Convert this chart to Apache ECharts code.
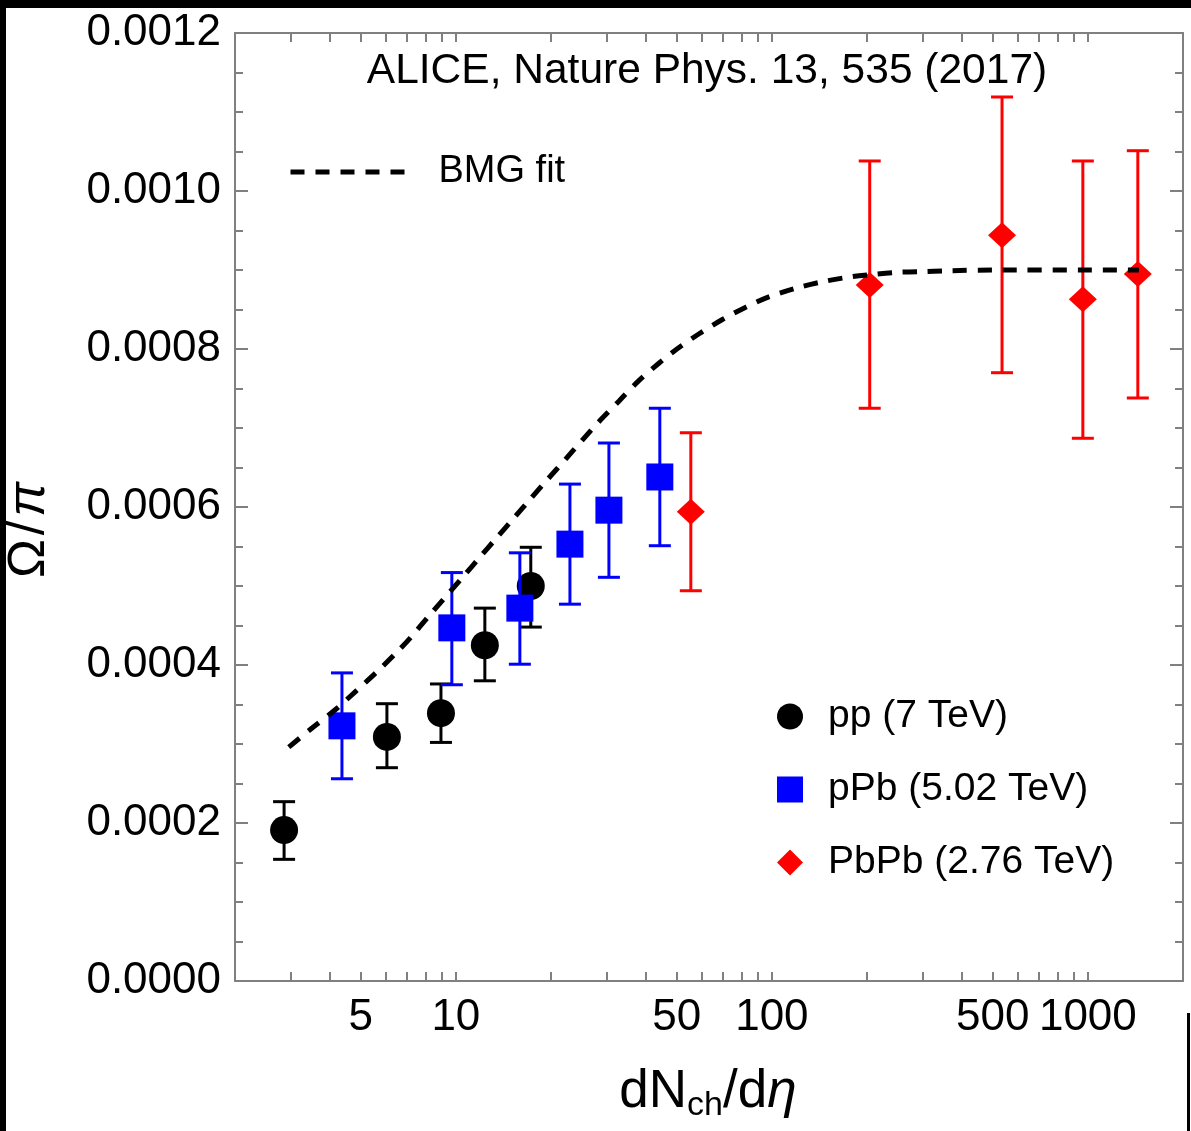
<!DOCTYPE html>
<html>
<head>
<meta charset="utf-8">
<script src="https://cdn.jsdelivr.net/npm/echarts@6/dist/echarts.min.js"></script>
<style>
  html, body { margin: 0; padding: 0; background: #fff; }
  #chart { width: 1191px; height: 1131px; }
</style>
</head>
<body>
<div id="chart"></div>
<script>
// pp (7 TeV)
var ppX  = [2.86, 6.05, 8.97, 12.35, 17.26];
var ppY  = [0.000191, 0.000309, 0.000339, 0.000425, 0.000500];
var ppLo = [0.000154, 0.000270, 0.000302, 0.000380, 0.000448];
var ppHi = [0.000227, 0.000351, 0.000376, 0.000472, 0.000549];

// pPb (5.02 TeV)
var pPbX  = [4.36, 9.71, 15.94, 22.96, 30.5, 44.2];
var pPbY  = [0.000323, 0.000447, 0.000472, 0.000553, 0.000596, 0.000638];
var pPbLo = [0.000256, 0.000375, 0.000401, 0.000477, 0.000511, 0.000551];
var pPbHi = [0.000390, 0.000517, 0.000542, 0.000629, 0.000681, 0.000725];

// PbPb (2.76 TeV)
var PbPbX  = [55.4, 204, 535, 964, 1439];
var PbPbY  = [0.000594, 0.000881, 0.000944, 0.000863, 0.000895];
var PbPbLo = [0.000494, 0.000725, 0.000770, 0.000687, 0.000738];
var PbPbHi = [0.000694, 0.001038, 0.001119, 0.001038, 0.001051];

// BMG fit
var fitX = [2.96, 3.50, 4.17, 4.83, 5.58, 6.46, 7.20, 8.21, 9.17, 10.45, 12.0, 13.39, 15.26, 17.02,
            19.41, 22.29, 25.05, 28.35, 32.8, 37.94, 43.9, 49.7, 58.7, 69.5, 82.7, 97.8, 119, 144,
            175, 203, 247, 298, 355, 523, 1450];
var fitY = [0.000296, 0.000320, 0.000344, 0.000367, 0.000390, 0.000415, 0.000435, 0.000462, 0.000484,
            0.000510, 0.000538, 0.000560, 0.000586, 0.000608, 0.000634, 0.000661, 0.000684, 0.000708,
            0.000734, 0.000760, 0.000782, 0.000799, 0.000819, 0.000837, 0.000853, 0.000866, 0.000877,
            0.000885, 0.000891, 0.000894, 0.000897, 0.000898, 0.000899, 0.000900, 0.000900];

// axis ticks
var xTickVals = [3, 4, 5, 6, 7, 8, 9, 10, 20, 30, 40, 50, 60, 70, 80, 90, 100,
                 200, 300, 400, 500, 600, 700, 800, 900, 1000];
var xLabelVals = [5, 10, 50, 100, 500, 1000];

var FONT = '"Liberation Sans", Arial, Helvetica, sans-serif';
var frameColor = '#808080';

function pairs(xs, ys) {
  return xs.map(function (x, i) { return [x, ys[i]]; });
}

function errBars(name, xs, lo, hi, color, z) {
  return {
    type: 'custom',
    name: name,
    xAxisIndex: 0,
    yAxisIndex: 0,
    silent: true,
    z: z,
    data: xs.map(function (x, i) { return [x, lo[i], hi[i]]; }),
    renderItem: function (params, api) {
      var a = api.coord([api.value(0), api.value(1)]);
      var b = api.coord([api.value(0), api.value(2)]);
      var w = 11;
      var st = { stroke: color, lineWidth: 3 };
      return {
        type: 'group',
        children: [
          { type: 'line', shape: { x1: a[0], y1: a[1], x2: b[0], y2: b[1] }, style: st },
          { type: 'line', shape: { x1: a[0] - w, y1: a[1], x2: a[0] + w, y2: a[1] }, style: st },
          { type: 'line', shape: { x1: b[0] - w, y1: b[1], x2: b[0] + w, y2: b[1] }, style: st }
        ]
      };
    }
  };
}

var myChart = echarts.init(document.getElementById('chart'));

var tickAxis = function (pos, showLabel) {
  return {
    type: 'value',
    position: pos,
    min: Math.log10(2),
    max: Math.log10(2000),
    axisLine: { show: pos === 'top', lineStyle: { color: frameColor, width: 2 } },
    splitLine: { show: false },
    axisTick: {
      show: true,
      inside: true,
      length: 9,
      customValues: xTickVals.map(Math.log10),
      lineStyle: { color: frameColor, width: 2 }
    },
    axisLabel: {
      show: showLabel,
      customValues: xLabelVals.map(Math.log10),
      formatter: function (v) { return String(Math.round(Math.pow(10, v))); },
      margin: 15,
      color: '#000',
      fontSize: 44,
      fontFamily: FONT
    }
  };
};

var option = {
  backgroundColor: '#fff',
  animation: false,
  grid: { left: 235, right: 8, top: 33, bottom: 150, containLabel: false },
  xAxis: [
    {
      type: 'log',
      position: 'bottom',
      min: 2,
      max: 2000,
      axisLine: { show: true, lineStyle: { color: frameColor, width: 2 } },
      axisTick: { show: false },
      axisLabel: { show: false },
      splitLine: { show: false },
      minorTick: { show: false }
    },
    tickAxis('bottom', true),
    tickAxis('top', false)
  ],
  yAxis: [
    {
      type: 'value',
      position: 'left',
      min: 0,
      max: 0.0012,
      interval: 0.0002,
      axisLine: { show: true, lineStyle: { color: frameColor, width: 2 } },
      axisTick: { show: true, inside: true, length: 13, lineStyle: { color: frameColor, width: 2 } },
      minorTick: { show: true, splitNumber: 4, length: 8, lineStyle: { color: frameColor, width: 2 } },
      splitLine: { show: false },
      axisLabel: {
        margin: 14,
        color: '#000',
        fontSize: 44,
        fontFamily: FONT,
        formatter: function (v) { return v.toFixed(4); }
      }
    },
    {
      type: 'value',
      position: 'right',
      min: 0,
      max: 0.0012,
      interval: 0.0002,
      axisLine: { show: true, lineStyle: { color: frameColor, width: 2 } },
      axisTick: { show: true, inside: true, length: 13, lineStyle: { color: frameColor, width: 2 } },
      minorTick: { show: true, splitNumber: 4, length: 8, lineStyle: { color: frameColor, width: 2 } },
      splitLine: { show: false },
      axisLabel: { show: false }
    }
  ],
  legend: [
    {
      data: ['BMG fit'],
      left: 288,
      top: 153,
      padding: 0,
      itemWidth: 120,
      itemHeight: 26,
      itemStyle: { opacity: 0 },
      lineStyle: { color: '#000', width: 5, type: [14, 11] },
      textStyle: { color: '#000', fontSize: 38, fontFamily: FONT, padding: [0, 0, 0, 23] }
    },
    {
      data: ['pp (7 TeV)', 'pPb (5.02 TeV)', 'PbPb (2.76 TeV)'],
      orient: 'vertical',
      left: 777,
      top: 697,
      padding: 0,
      itemWidth: 26,
      itemHeight: 26,
      itemGap: 34,
      textStyle: { color: '#000', fontSize: 39, fontFamily: FONT, lineHeight: 26, padding: [0, 0, 0, 20] }
    }
  ],
  graphic: [
    { type: 'rect', shape: { x: 0, y: 0, width: 1191, height: 8 }, style: { fill: '#000' }, z: 100 },
    { type: 'rect', shape: { x: 0, y: 0, width: 6, height: 1131 }, style: { fill: '#000' }, z: 100 },
    { type: 'rect', shape: { x: 1187, y: 1013, width: 3, height: 118 }, style: { fill: '#000' }, z: 100 },
    {
      type: 'text', x: 707, y: 71, z: 50,
      style: { text: 'ALICE, Nature Phys. 13, 535 (2017)', fill: '#000', fontSize: 42.5, fontFamily: FONT,
               align: 'center', verticalAlign: 'middle' }
    },
    {
      type: 'text', x: 708, y: 1092, z: 50,
      style: {
        text: '{a|dN}{s|ch}{a|/d}{i|η}',
        align: 'center', verticalAlign: 'middle',
        rich: {
          a: { fontSize: 53, fontFamily: FONT, fill: '#000', lineHeight: 62 },
          s: { fontSize: 34, fontFamily: FONT, fill: '#000', lineHeight: 34, verticalAlign: 'bottom' },
          i: { fontSize: 53, fontFamily: FONT, fill: '#000', fontStyle: 'italic', lineHeight: 62 }
        }
      }
    },
    {
      type: 'text', x: 30, y: 530, rotation: Math.PI / 2, z: 50,
      style: {
        text: '{a|Ω}{s|/}{i|π}',
        align: 'center', verticalAlign: 'middle',
        rich: {
          a: { fontSize: 52, fontFamily: FONT, fill: '#000' },
          s: { fontSize: 52, fontFamily: FONT, fill: '#000', padding: [0, 4, 0, 4] },
          i: { fontSize: 52, fontFamily: FONT, fill: '#000', fontStyle: 'italic' }
        }
      }
    }
  ],
  series: [
    errBars('pp err', ppX, ppLo, ppHi, '#000000', 2),
    {
      name: 'pp (7 TeV)', type: 'scatter', xAxisIndex: 0, yAxisIndex: 0, z: 3,
      symbol: 'circle', symbolSize: 28, itemStyle: { color: '#000000', opacity: 1 },
      data: pairs(ppX, ppY)
    },
    errBars('pPb err', pPbX, pPbLo, pPbHi, '#0000ff', 4),
    {
      name: 'pPb (5.02 TeV)', type: 'scatter', xAxisIndex: 0, yAxisIndex: 0, z: 5,
      symbol: 'rect', symbolSize: 27, itemStyle: { color: '#0000ff', opacity: 1 },
      data: pairs(pPbX, pPbY)
    },
    errBars('PbPb err', PbPbX, PbPbLo, PbPbHi, '#ff0000', 6),
    {
      name: 'PbPb (2.76 TeV)', type: 'scatter', xAxisIndex: 0, yAxisIndex: 0, z: 7,
      symbol: 'diamond', symbolSize: [28, 26], itemStyle: { color: '#ff0000', opacity: 1 },
      data: pairs(PbPbX, PbPbY)
    },
    {
      name: 'BMG fit', type: 'line', xAxisIndex: 0, yAxisIndex: 0, z: 8,
      showSymbol: false, symbol: 'none', smooth: 0.3,
      itemStyle: { color: '#000' },
      lineStyle: { color: '#000', width: 5, type: [14, 11] },
      data: pairs(fitX, fitY)
    }
  ]
};

myChart.setOption(option);
</script>
</body>
</html>
